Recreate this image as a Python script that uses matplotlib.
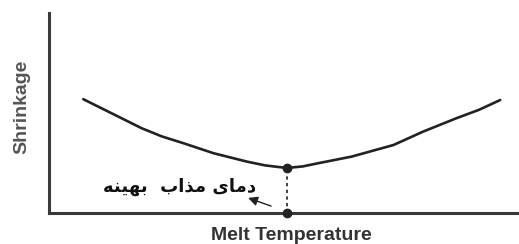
import matplotlib
matplotlib.use("Agg")
import matplotlib.pyplot as plt

# Data (x: 0-100 along the axis, y: 0-100 shrinkage)
melt_temp = [7.3, 12.6, 19.7, 24.0, 28.6, 35.0, 42.1, 46.0, 50.6, 54.0, 57.3, 64.4, 73.3, 79.6, 86.7, 91.5, 96.0]
shrinkage = [56.9, 50.7, 42.4, 38.3, 34.9, 29.9, 25.7, 23.8, 22.5, 23.3, 24.9, 28.2, 34.0, 40.7, 47.4, 51.6, 56.5]
optimum_x = 50.6
optimum_y = 22.5
x_label = "Melt Temperature"
y_label = "Shrinkage"

# Persian label "دمای مذاب بهینه", shaped with presentation forms (visual order)
logical_shaped = [
    "\uFEA9", "\uFEE3", "\uFE8E", "\uFEEF",          # دمای
    " ",
    "\uFEE3", "\uFEAC", "\uFE8D", "\uFE8F",          # مذاب
    "  ",
    "\uFE91", "\uFEEC", "\uFEF4", "\uFEE8", "\uFEEA",  # بهینه
]
annot_text = "".join(logical_shaped)[::-1]

fig = plt.figure(figsize=(5.19, 2.44), dpi=100)
ax = fig.add_axes([49 / 519, 1 - 213 / 244, 1 - 49 / 519, (213 - 13) / 244])
ax.set_xlim(0, 100)
ax.set_ylim(0, 100)

line_col = "#222222"
ax.plot(melt_temp, shrinkage, color=line_col, lw=1.9, solid_capstyle="round",
        solid_joinstyle="round")
ax.plot([optimum_x, optimum_x], [0, optimum_y], color=line_col, lw=1.2,
        linestyle=(0, (2, 2)))
ax.plot([optimum_x, optimum_x], [0, optimum_y], "o", color=line_col, ms=6,
        clip_on=False, zorder=5)

ax.annotate("", xy=(41.8, 8.0), xytext=(47.8, 3.0),
            arrowprops=dict(arrowstyle="-|>", color=line_col, lw=1.0,
                            mutation_scale=14))
ax.text(44.0, 13.0, annot_text, ha="right", va="center", fontsize=13,
        fontweight="bold", color="#111111", family=["DejaVu Sans"])

for s in ["top", "right"]:
    ax.spines[s].set_visible(False)
for s in ["left", "bottom"]:
    ax.spines[s].set_color("#3a3a3a")
    ax.spines[s].set_linewidth(2.2)
ax.set_xticks([])
ax.set_yticks([])

fig.text(291 / 519, 1 - 235 / 244, x_label, ha="center", va="center",
         fontsize=14, fontweight="bold", color="#333333",
         family="Liberation Sans")
fig.text(22 / 519, 1 - 107 / 244, y_label, ha="center", va="center",
         rotation=90, fontsize=14, fontweight="bold", color="#555555",
         family="Liberation Sans")

fig.savefig("out.png", dpi=100, facecolor="white")
